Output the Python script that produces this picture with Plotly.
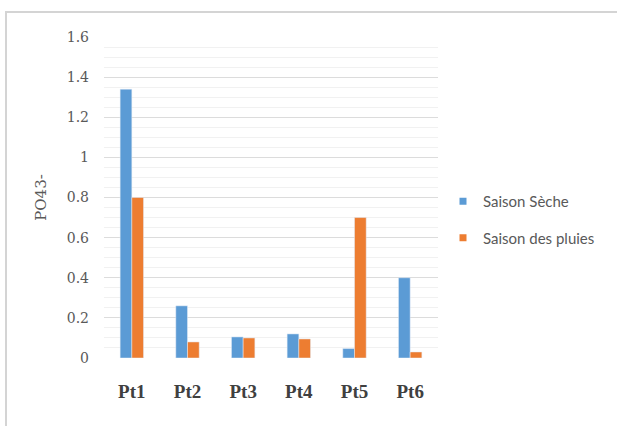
import plotly.graph_objects as go

# PO4^3- concentrations per sampling point, dry vs rainy season
points = ["Pt1", "Pt2", "Pt3", "Pt4", "Pt5", "Pt6"]
saison_seche = [1.34, 0.26, 0.105, 0.12, 0.047, 0.40]
saison_pluies = [0.80, 0.08, 0.10, 0.095, 0.70, 0.03]
y_ticks = [0, 0.2, 0.4, 0.6, 0.8, 1.0, 1.2, 1.4, 1.6]
y_tick_text = ["0", "0.2", "0.4", "0.6", "0.8", "1", "1.2", "1.4", "1.6"]

BLUE = "#5b9bd5"
ORANGE = "#ed7d31"

fig = go.Figure()
fig.add_trace(go.Bar(x=points, y=saison_seche, name="Saison Sèche",
                     marker_color=BLUE, showlegend=False))
fig.add_trace(go.Bar(x=points, y=saison_pluies, name="Saison des pluies",
                     marker_color=ORANGE, showlegend=False))

# small square legend keys
for name, col in [("Saison Sèche", BLUE), ("Saison des pluies", ORANGE)]:
    fig.add_trace(go.Scatter(x=[None], y=[None], mode="markers", name=name,
                             legendgroup=name,
                             marker=dict(symbol="square", size=7, color=col)))

# chart-area frame
W, H = 617, 426
L, R, T, B = 104, 179, 37, 68
pw, ph = W - L - R, H - T - B
def px(xp):
    return (xp - L) / pw
def py(yp):
    return (H - B - yp) / ph

fig.add_shape(type="rect", xref="paper", yref="paper",
              x0=px(6), x1=px(625), y0=py(433), y1=py(12),
              line=dict(color="#d4d4d4", width=2), fillcolor="rgba(0,0,0,0)",
              layer="below")

fig.update_layout(
    width=W, height=H,
    margin=dict(l=L, r=R, t=T, b=B),
    paper_bgcolor="white", plot_bgcolor="white",
    barmode="group", bargap=0.58, bargroupgap=0,
    legend=dict(x=px(443), y=py(185), xanchor="left", yanchor="top",
                font=dict(family="Lato", size=15, color="#595959"),
                tracegroupgap=14, itemwidth=30, bgcolor="rgba(0,0,0,0)"),
    xaxis=dict(showgrid=False, showline=False, zeroline=False, ticks="",
               tickfont=dict(family="Liberation Serif", size=19, color="#404040",
                             weight="bold"),
               ticklabelstandoff=20),
    yaxis=dict(range=[0, 1.6], tickvals=y_ticks, ticktext=y_tick_text,
               showgrid=True, gridcolor="#dcdcdc", gridwidth=1,
               minor=dict(dtick=0.05, showgrid=True, gridcolor="#f1f1f1",
                          gridwidth=1),
               zeroline=False, showline=False, ticks="",
               tickfont=dict(family="DejaVu Serif", size=14, color="#595959"),
               ticklabelstandoff=14,
               title=dict(text="PO43-", standoff=16,
                          font=dict(family="DejaVu Serif", size=15,
                                    color="#595959"))),
)

fig.write_html("out.html")
